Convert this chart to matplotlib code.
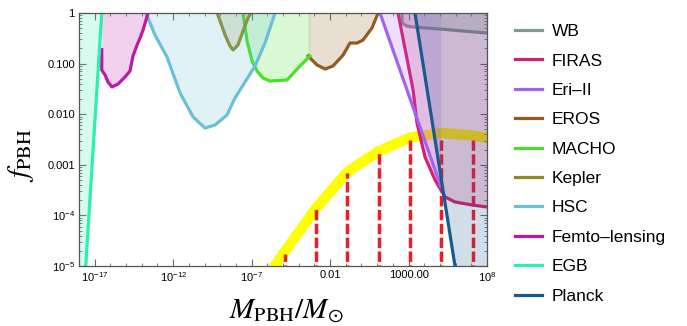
import numpy as np
import matplotlib
matplotlib.use("Agg")
import matplotlib.pyplot as plt
from matplotlib.ticker import FixedLocator, FixedFormatter, NullFormatter

plt.rcParams['font.family'] = ['Liberation Sans', 'DejaVu Sans']
plt.rcParams['mathtext.fontset'] = 'stix'

# constraint curves as (log10 M, log10 f)
wb_m = [2.59, 2.59, 2.90, 3.29, 5.01, 6.47, 8.0]
wb_f = [0.0, -0.198, -0.257, -0.277, -0.316, -0.356, -0.395]

firas_m = [2.33, 2.78, 3.29, 3.54, 4.05, 4.69, 5.33, 5.96, 7.05, 8.0]
firas_f = [0.0, -0.711, -1.522, -2.174, -2.846, -3.30, -3.636, -3.735, -3.794, -3.834]

eri_m = [1.18, 5.05]
eri_f = [0.0, -3.42]

eros_m = [-3.40, -2.83, -2.32, -1.81, -1.17, -0.73, -0.28, 0.10, 0.67, 1.06]
eros_f = [-0.850, -1.028, -1.107, -1.047, -0.830, -0.593, -0.593, -0.534, -0.296, 0.0]

macho_m = [-7.55, -7.29, -6.97, -6.66, -6.27, -5.83, -4.74, -4.04, -3.28]
macho_f = [0.0, -0.553, -0.949, -1.146, -1.285, -1.344, -1.324, -1.087, -0.850]

kepler_m = [-9.20, -9.01, -8.69, -8.38, -8.18, -7.87, -7.55, -7.23, -7.04]
kepler_f = [0.0, -0.158, -0.435, -0.652, -0.731, -0.632, -0.356, -0.099, 0.0]

hsc_m = [-13.73, -13.16, -12.39, -11.56, -10.73, -9.97, -9.33, -8.57, -8.06, -6.78, -6.15, -5.51]
hsc_f = [0.0, -0.435, -0.870, -1.581, -2.055, -2.273, -2.213, -2.016, -1.680, -1.047, -0.593, 0.0]

femto_m = [-16.55, -16.55, -16.34, -16.15, -15.90, -15.51, -15.07, -14.75, -14.56, -14.30, -14.11, -13.92, -13.60]
femto_f = [-0.725, -1.127, -1.225, -1.364, -1.462, -1.403, -1.265, -1.146, -0.850, -0.632, -0.494, -0.336, 0.0]

egb_m = [-18.0, -16.55]
egb_f = [-7.1, 0.0]

planck_m = [3.41, 8.0]
planck_f = [0.0, -9.0]

# model envelope and the spikes beneath it
band_m = [-6.2, -4.9, -2.9, -0.9, 1.1, 3.1, 5.1, 7.1, 8.2]
band_f = [-5.3, -4.72, -3.86, -3.14, -2.73, -2.46, -2.37, -2.42, -2.48]
spike_m = [-4.9, -2.9, -0.9, 1.1, 3.1, 5.1, 7.1]
spike_top = [-4.76, -3.85, -3.16, -2.75, -2.51, -2.45, -2.51]

names = ['WB', 'FIRAS', 'Eri\u2013II', 'EROS', 'MACHO', 'Kepler', 'HSC',
         'Femto\u2013lensing', 'EGB', 'Planck']
colors = ['#7f9c98', '#d81e6e', '#a064f0', '#935a22', '#45e22a', '#8b8b25',
          '#6bbfd8', '#bb1aa5', '#2ef0ab', '#1b5a8c']
curves = [(wb_m, wb_f), (firas_m, firas_f), (eri_m, eri_f), (eros_m, eros_f),
          (macho_m, macho_f), (kepler_m, kepler_f), (hsc_m, hsc_f),
          (femto_m, femto_f), (egb_m, egb_f), (planck_m, planck_f)]

fig = plt.figure(figsize=(6.87, 3.26), dpi=100)
ax = fig.add_axes([79/687, 1-266/326, 408/687, 253/326])

ax.plot(10.0**np.array(band_m), 10.0**np.array(band_f), color='#ffff00',
        lw=7.5, solid_capstyle='butt', zorder=1.5)
for m, top in zip(spike_m, spike_top):
    ax.plot([10.0**m, 10.0**m], [1e-6, 10.0**top], color='#ee1c24', lw=2.5,
            ls=(0, (3, 1.0)), zorder=1.6)

handles = []
for i, ((m, f), c, n) in enumerate(zip(curves, colors, names)):
    mm = 10.0**np.array(m)
    ff = 10.0**np.array(f)
    ax.fill_between(mm, ff, 1.0, color=c, alpha=0.2, lw=0, zorder=2+2*i)
    h, = ax.plot(mm, ff, color=c, lw=2.3, zorder=3+2*i, label=n)
    handles.append(h)

ax.set_xscale('log')
ax.set_yscale('log')
ax.set_xlim(1e-18, 1e8)
ax.set_ylim(1e-5, 1)

xmaj = [1e-17, 1e-12, 1e-7, 1e-2, 1e3, 1e8]
xlab = ['$\\mathregular{10^{-17}}$', '$\\mathregular{10^{-12}}$',
        '$\\mathregular{10^{-7}}$', '0.01', '1000.00', '$\\mathregular{10^{8}}$']
ymaj = [1e-5, 1e-4, 1e-3, 1e-2, 1e-1, 1]
ylab = ['$\\mathregular{10^{-5}}$', '$\\mathregular{10^{-4}}$', '0.001', '0.010', '0.100', '1']

ax.xaxis.set_major_locator(FixedLocator(xmaj))
ax.xaxis.set_major_formatter(FixedFormatter(xlab))
ax.xaxis.set_minor_locator(FixedLocator([10.0**k for k in range(-18, 9)]))
ax.xaxis.set_minor_formatter(NullFormatter())
ax.yaxis.set_major_locator(FixedLocator(ymaj))
ax.yaxis.set_major_formatter(FixedFormatter(ylab))
ax.yaxis.set_minor_locator(FixedLocator([j*10.0**k for k in range(-5, 0) for j in range(2, 10)]))
ax.yaxis.set_minor_formatter(NullFormatter())

ax.tick_params(which='both', direction='in', top=True, right=True,
               color='#666666', labelsize=8, pad=3)
ax.tick_params(which='major', length=5, width=0.8)
ax.tick_params(which='minor', length=2.5, width=0.6)
for s in ax.spines.values():
    s.set_color('#555555')
    s.set_linewidth(0.9)
    s.set_zorder(30)

ax.set_xlabel('$M_{\\rm PBH}/M_{\\odot}$', fontsize=21)
ax.set_ylabel('$f_{\\rm PBH}$', fontsize=21)
ax.xaxis.set_label_coords(0.507, -0.124)
ax.yaxis.set_label_coords(-0.105, 0.44)

fig.legend(handles=handles, loc='upper left', bbox_to_anchor=(515/687, 1-24/326),
           frameon=False, fontsize=12.5, handlelength=1.55, handletextpad=0.57,
           labelspacing=0.82, borderpad=0, borderaxespad=0)

fig.savefig('out.png', dpi=100)
